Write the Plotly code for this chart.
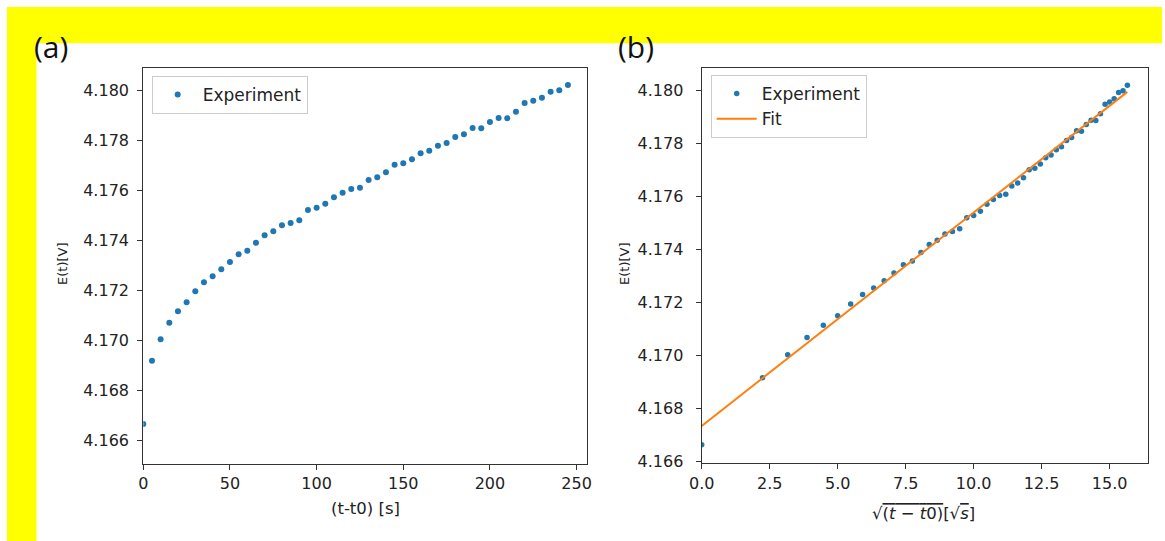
import numpy as np
import plotly.graph_objects as go

# ---- data ----
t_s = [0, 5, 10, 15, 20, 25, 30, 35, 40, 45, 50, 55, 60, 65, 70, 75, 80, 85, 90, 95,
       100, 105, 110, 115, 120, 125, 130, 135, 140, 145, 150, 155, 160, 165, 170, 175,
       180, 185, 190, 195, 200, 205, 210, 215, 220, 225, 230, 235, 240, 245]
E_V = [4.16664, 4.16917, 4.17003, 4.17069, 4.17115, 4.17151, 4.17195, 4.17231, 4.17255, 4.17283,
       4.17312, 4.17343, 4.17357, 4.17389, 4.17419, 4.17435, 4.17459, 4.17468, 4.17479, 4.17520,
       4.17529, 4.17545, 4.17571, 4.17589, 4.17604, 4.17609, 4.17640, 4.17651, 4.17671, 4.17701,
       4.17707, 4.17723, 4.17747, 4.17757, 4.17777, 4.17788, 4.17812, 4.17823, 4.17848, 4.17847,
       4.17872, 4.17888, 4.17887, 4.17913, 4.17948, 4.17957, 4.17969, 4.17993, 4.17999, 4.18020]
sqrt_t = list(np.sqrt(np.array(t_s, dtype=float)))
fit_x = [0.0, 15.65]
fit_y = [4.16735, 4.17995]

xa_ticks = [0, 50, 100, 150, 200, 250]
xb_ticks = [0.0, 2.5, 5.0, 7.5, 10.0, 12.5, 15.0]
y_ticks = [4.166, 4.168, 4.170, 4.172, 4.174, 4.176, 4.178, 4.180]

W, H = 1165, 541
BLUE = "#1f77b4"
ORANGE = "#ff7f0e"
TXT = "#222222"
FONT = "DejaVu Sans"

def px(x):
    return x / W

def py(y):
    return 1 - y / H

fig = go.Figure()
fig.add_trace(go.Scatter(x=t_s, y=E_V, mode="markers", name="Experiment",
                         marker=dict(color=BLUE, size=6), xaxis="x", yaxis="y",
                         legend="legend", showlegend=True))
fig.add_trace(go.Scatter(x=sqrt_t, y=E_V, mode="markers", name="Experiment",
                         marker=dict(color=BLUE, size=5.5), xaxis="x2", yaxis="y2",
                         legend="legend2", showlegend=True))
fig.add_trace(go.Scatter(x=fit_x, y=fit_y, mode="lines", name="Fit",
                         line=dict(color=ORANGE, width=2), xaxis="x2", yaxis="y2",
                         legend="legend2", showlegend=True))

axis_common = dict(showline=True, linecolor="#333333", linewidth=1.2, mirror=True,
                   ticks="outside", ticklen=5, tickcolor="#333333", tickwidth=1.2,
                   showgrid=False, zeroline=False, automargin=False,
                   tickfont=dict(family=FONT, size=16, color=TXT))

legend_common = dict(xanchor="left", yanchor="top",
                     bgcolor="rgba(255,255,255,0.8)", bordercolor="#cccccc", borderwidth=1,
                     font=dict(family=FONT, size=17, color=TXT), itemwidth=40,
                     tracegroupgap=0)

fig.update_layout(
    width=W, height=H, margin=dict(l=0, r=0, t=0, b=0, pad=0, autoexpand=False),
    paper_bgcolor="white", plot_bgcolor="white", showlegend=True,
    xaxis=dict(domain=[px(143.3), px(587)], range=[0, 256], tickvals=xa_ticks,
               anchor="y", **axis_common),
    yaxis=dict(domain=[py(464), py(68)], range=[4.16504, 4.18088], tickvals=y_ticks,
               tickformat=".3f", anchor="x", ticklabelstandoff=5, **axis_common),
    xaxis2=dict(domain=[px(701.7), px(1148)], range=[0, 16.41], tickvals=xb_ticks,
                tickformat=".1f", anchor="y2", **axis_common),
    yaxis2=dict(domain=[py(463.3), py(68.3)], range=[4.16594, 4.18084], tickvals=y_ticks,
                tickformat=".3f", anchor="x2", ticklabelstandoff=9, **axis_common),
    legend=dict(x=px(151.7), y=py(76), **legend_common),
    legend2=dict(x=px(710.7), y=py(75), **legend_common),
    shapes=[
        dict(type="rect", xref="paper", yref="paper", x0=px(7), x1=px(1162),
             y0=py(43.3), y1=py(7), fillcolor="#ffff00", line=dict(width=0), layer="below"),
        dict(type="rect", xref="paper", yref="paper", x0=px(7), x1=px(36.5),
             y0=0, y1=py(7), fillcolor="#ffff00", line=dict(width=0), layer="below"),
    ],
    annotations=[
        dict(text="(a)", x=px(32), y=py(47), xref="paper", yref="paper",
             xanchor="left", yanchor="middle", showarrow=False,
             font=dict(family="Open Sans", size=30, color="#111111")),
        dict(text="(b)", x=px(616), y=py(47), xref="paper", yref="paper",
             xanchor="left", yanchor="middle", showarrow=False,
             font=dict(family="Open Sans", size=30, color="#111111")),
        dict(text="(t-t0) [s]", x=px(365), y=py(508), xref="paper", yref="paper",
             xanchor="center", yanchor="middle", showarrow=False,
             font=dict(family=FONT, size=16.5, color=TXT)),
        dict(text="√<span style='text-decoration:overline'>(<i>t</i> − <i>t</i>0)</span>[√<span style='text-decoration:overline'><i>s</i></span>]",
             x=px(923), y=py(513), xref="paper", yref="paper",
             xanchor="center", yanchor="middle", showarrow=False,
             font=dict(family=FONT, size=16.5, color=TXT)),
        dict(text="E(t)[V]", x=px(62), y=py(264), xref="paper", yref="paper",
             xanchor="center", yanchor="middle", showarrow=False, textangle=-90,
             font=dict(family=FONT, size=13, color=TXT)),
        dict(text="E(t)[V]", x=px(624), y=py(264), xref="paper", yref="paper",
             xanchor="center", yanchor="middle", showarrow=False, textangle=-90,
             font=dict(family=FONT, size=13, color=TXT)),
    ],
)

fig.write_html("out.html", config={"displayModeBar": False},
               post_script="document.body.style.margin='0px';document.body.style.overflow='hidden';")
